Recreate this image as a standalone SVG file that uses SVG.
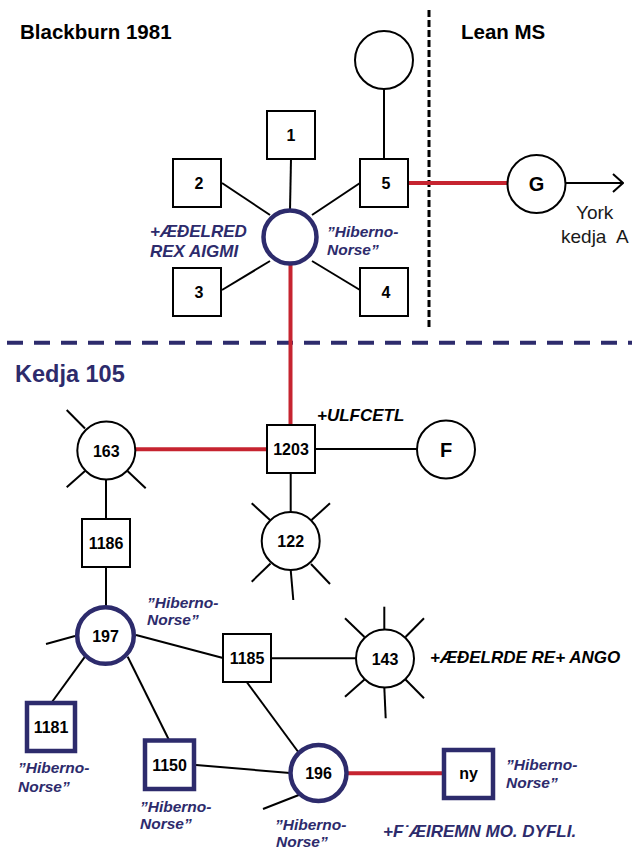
<svg xmlns="http://www.w3.org/2000/svg" width="632" height="850" viewBox="0 0 632 850">
<defs>
<style>
.bx{fill:#fff;stroke:#000;stroke-width:2}
.nbx{fill:#fff;stroke:#2d2b6c;stroke-width:4.5}
.ci{fill:#fff;stroke:#000;stroke-width:2}
.nci{fill:#fff;stroke:#2d2b6c;stroke-width:4.5}
.ln{stroke:#000;stroke-width:2;fill:none}
.red{stroke:#c62430;stroke-width:4;fill:none}
.lb{font-family:"Liberation Sans",Arial,sans-serif;font-weight:bold;font-size:16px;text-anchor:middle;fill:#000}
.big{font-size:20px}
.hn{font-family:"Liberation Sans",Arial,sans-serif;font-weight:bold;font-style:italic;font-size:15.5px;fill:#2d2b6c}
.nav{font-family:"Liberation Sans",Arial,sans-serif;font-weight:bold;font-style:italic;font-size:17px;fill:#2d2b6c}
.blk{font-family:"Liberation Sans",Arial,sans-serif;font-weight:bold;font-style:italic;font-size:17px;fill:#000}
.ttl{font-family:"Liberation Sans",Arial,sans-serif;font-weight:bold;font-size:20.5px;fill:#000}
.reg{font-family:"Liberation Sans",Arial,sans-serif;font-size:19px;fill:#1a1a1a}
</style>
<marker id="arr" viewBox="0 0 12 20" refX="11" refY="10" markerWidth="12" markerHeight="20" markerUnits="userSpaceOnUse" orient="auto">
<path d="M1 1 L11 10 L1 19" fill="none" stroke="#000" stroke-width="2"/>
</marker>
</defs>
<rect width="632" height="850" fill="#fff"/>

<g id="dividers">
<line x1="429" y1="10" x2="429" y2="330" stroke="#000" stroke-width="3" stroke-dasharray="7 3"/>
<line x1="7" y1="342.7" x2="632" y2="342.7" stroke="#2d2b6c" stroke-width="4" stroke-dasharray="16 11"/>
</g>

<g id="titles">
<text class="ttl" x="20" y="39">Blackburn 1981</text>
<text class="ttl" x="461" y="39">Lean MS</text>
<text class="ttl" x="15" y="382" style="font-size:23.5px;fill:#2d2b6c">Kedja 105</text>
</g>

<g id="connectors">
<line class="ln" x1="291" y1="159" x2="290" y2="210"/>
<line class="ln" x1="222" y1="183" x2="270" y2="215"/>
<line class="ln" x1="360" y1="183" x2="312" y2="215"/>
<line class="ln" x1="222" y1="290" x2="270" y2="261"/>
<line class="ln" x1="360" y1="290" x2="312" y2="261"/>
<line class="ln" x1="384" y1="158" x2="384" y2="89"/>
<line class="red" x1="409" y1="183" x2="507.5" y2="183"/>
<line class="ln" x1="565.5" y1="183" x2="623" y2="183" marker-end="url(#arr)"/>
<line class="red" x1="290.5" y1="264" x2="290.5" y2="425"/>
<line class="red" x1="135.5" y1="449.3" x2="267" y2="449.3"/>
<line class="ln" x1="315" y1="449" x2="417" y2="449"/>
<line class="ln" x1="290.7" y1="473" x2="290.7" y2="512"/>
<line class="ln" x1="106" y1="479.5" x2="106" y2="519"/>
<line class="ln" x1="106" y1="567" x2="106" y2="606"/>
<line class="ln" x1="136" y1="635" x2="223" y2="658"/>
<line class="ln" x1="85" y1="656.7" x2="52" y2="702"/>
<line class="ln" x1="127.7" y1="656.7" x2="169" y2="740"/>
<line class="ln" x1="271" y1="658.3" x2="356" y2="658.3"/>
<line class="ln" x1="246.7" y1="682" x2="299" y2="753"/>
<line class="ln" x1="196" y1="765" x2="290" y2="773"/>
<line class="red" x1="347" y1="773.3" x2="443" y2="773.3"/>
</g>

<g id="rays">
<line class="ln" x1="66.7" y1="410" x2="85" y2="428.5"/>
<line class="ln" x1="85" y1="471" x2="66.7" y2="487.3"/>
<line class="ln" x1="127.5" y1="471" x2="145.7" y2="488.3"/>
<line class="ln" x1="251.7" y1="503.3" x2="270" y2="520"/>
<line class="ln" x1="330" y1="503.3" x2="311.5" y2="520"/>
<line class="ln" x1="251.7" y1="581.7" x2="270.5" y2="563.5"/>
<line class="ln" x1="330" y1="584" x2="311" y2="564"/>
<line class="ln" x1="290.7" y1="570" x2="293.3" y2="600"/>
<line class="ln" x1="75" y1="636" x2="46" y2="644"/>
<line class="ln" x1="384.3" y1="606.7" x2="384.3" y2="629.5"/>
<line class="ln" x1="345" y1="618.3" x2="364.5" y2="637"/>
<line class="ln" x1="424" y1="618.3" x2="405.5" y2="637"/>
<line class="ln" x1="345" y1="696.7" x2="364.5" y2="679.5"/>
<line class="ln" x1="424" y1="698.3" x2="405.5" y2="679.5"/>
<line class="ln" x1="384.3" y1="687.5" x2="385.7" y2="718.3"/>
<line class="ln" x1="298.8" y1="795" x2="263" y2="809"/>
</g>

<g id="n-top"><circle class="ci" cx="384" cy="60" r="29"/></g>
<g id="n-1"><rect class="bx" x="267" y="111" width="48" height="48"/><text class="lb" x="291" y="141">1</text></g>
<g id="n-2"><rect class="bx" x="173" y="159" width="48" height="48"/><text class="lb" x="199" y="189">2</text></g>
<g id="n-5"><rect class="bx" x="360" y="159" width="48" height="48"/><text class="lb" x="386" y="189">5</text></g>
<g id="n-3"><rect class="bx" x="173" y="268" width="48" height="48"/><text class="lb" x="199" y="298">3</text></g>
<g id="n-4"><rect class="bx" x="360" y="268" width="48" height="48"/><text class="lb" x="386" y="298">4</text></g>
<g id="n-aethelred"><circle class="nci" cx="290" cy="237" r="26.5"/>
<text class="nav" x="150" y="237">+ÆÐELRED</text><text class="nav" x="150" y="257">REX AIGMI</text>
<text class="hn" x="327" y="237">”Hiberno-</text><text class="hn" x="327" y="255">Norse”</text></g>
<g id="n-G"><circle class="ci" cx="536.5" cy="184" r="29"/><text class="lb big" x="536.5" y="191">G</text>
<text class="reg" x="576" y="219">York</text><text class="reg" x="561" y="243" xml:space="preserve">kedja  A</text></g>
<g id="n-1203"><rect class="bx" x="267" y="425" width="48" height="48"/><text class="lb" x="291" y="455">1203</text>
<text class="blk" x="317" y="421">+ULFCETL</text></g>
<g id="n-163"><circle class="ci" cx="106.3" cy="450.5" r="29"/><text class="lb" x="106.3" y="456.5">163</text></g>
<g id="n-F"><circle class="ci" cx="446" cy="449.5" r="29"/><text class="lb big" x="446" y="456.5">F</text></g>
<g id="n-122"><circle class="ci" cx="290.7" cy="541" r="29"/><text class="lb" x="290.7" y="547">122</text></g>
<g id="n-1186"><rect class="bx" x="82" y="519" width="48" height="48"/><text class="lb" x="106" y="549">1186</text></g>
<g id="n-197"><circle class="nci" cx="105.5" cy="635.5" r="28.3"/><text class="lb" x="105.5" y="641.5">197</text>
<text class="hn" x="147" y="608">”Hiberno-</text><text class="hn" x="147" y="625">Norse”</text></g>
<g id="n-1185"><rect class="bx" x="223" y="634" width="48" height="48"/><text class="lb" x="247" y="664">1185</text></g>
<g id="n-143"><circle class="ci" cx="385" cy="658.5" r="29"/><text class="lb" x="385" y="664.5">143</text>
<text class="blk" x="430" y="663">+ÆÐELRDE RE+ ANGO</text></g>
<g id="n-1181"><rect class="nbx" x="27" y="703" width="48" height="48"/><text class="lb" x="51" y="733">1181</text>
<text class="hn" x="18" y="773">”Hiberno-</text><text class="hn" x="18" y="792">Norse”</text></g>
<g id="n-1150"><rect class="nbx" x="145" y="740.5" width="49" height="48.5"/><text class="lb" x="169.5" y="771">1150</text>
<text class="hn" x="140" y="812">”Hiberno-</text><text class="hn" x="140" y="829">Norse”</text></g>
<g id="n-196"><circle class="nci" cx="318.5" cy="773" r="28"/><text class="lb" x="318.5" y="779">196</text>
<text class="hn" x="275" y="830">”Hiberno-</text><text class="hn" x="276" y="847">Norse”</text></g>
<g id="n-ny"><rect class="nbx" x="444" y="750" width="49" height="48"/><text class="lb" x="468.5" y="779">ny</text>
<text class="hn" x="506" y="770">”Hiberno-</text><text class="hn" x="506" y="788">Norse”</text>
<text class="nav" x="383" y="837">+F˙ÆIREMN MO. DYFLI.</text></g>
</svg>
